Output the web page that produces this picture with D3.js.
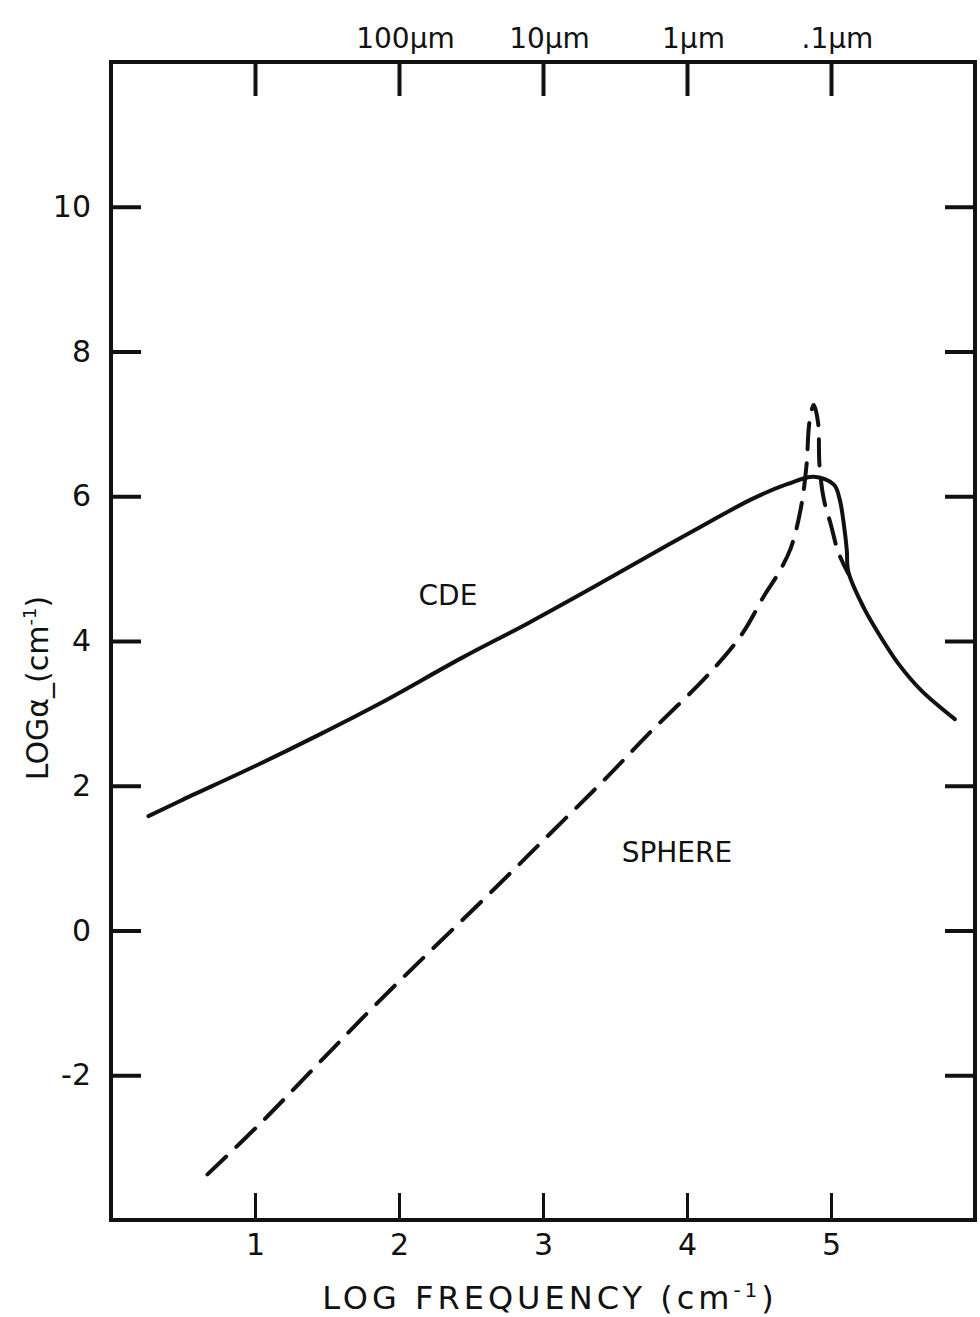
<!DOCTYPE html>
<html>
<head>
<meta charset="utf-8">
<script src="https://cdn.jsdelivr.net/npm/d3@7"></script>
<style>
  body { margin: 0; background: #fff; }
  svg text { font-family: "DejaVu Sans", sans-serif; fill: #111; }
</style>
</head>
<body>
<svg id="chart" width="980" height="1317"></svg>
<script>
// log frequency (cm^-1) vs log alpha
const cdeX = [0.26, 0.48, 1.02, 1.45, 1.87, 2.43, 2.90, 3.40, 3.87, 4.17, 4.45, 4.70, 4.88, 5.02, 5.06, 5.09, 5.11, 5.12, 5.23, 5.35, 5.47, 5.63, 5.86];
const cdeY = [1.58, 1.79, 2.29, 2.71, 3.14, 3.76, 4.25, 4.80, 5.33, 5.66, 5.96, 6.17, 6.27, 6.16, 5.96, 5.60, 5.25, 4.96, 4.45, 4.04, 3.68, 3.31, 2.92];

const sphereX = [0.67, 1.04, 1.43, 1.85, 2.67, 3.03, 3.45, 3.73, 4.15, 4.38, 4.54, 4.63, 4.72, 4.79, 4.83, 4.85, 4.88, 4.91, 4.92, 4.95, 5.00, 5.05, 5.12];
const sphereY = [-3.37, -2.66, -1.86, -1.00, 0.59, 1.30, 2.13, 2.71, 3.54, 4.09, 4.64, 4.92, 5.28, 5.83, 6.43, 7.02, 7.26, 7.02, 6.43, 5.96, 5.60, 5.23, 4.93];

const xTicks = [1, 2, 3, 4, 5];
const yTicks = [-2, 0, 2, 4, 6, 8, 10];
const topTicks = [1, 2, 3, 4, 5];
const topLabels = ["", "100\u03bcm", "10\u03bcm", "1\u03bcm", ".1\u03bcm"];

const margin = { top: 62, right: 5, bottom: 97, left: 111 };
const width = 980 - margin.left - margin.right;
const height = 1317 - margin.top - margin.bottom;

const svg = d3.select('#chart');
const g = svg.append('g').attr('transform', `translate(${margin.left},${margin.top})`);

const x = d3.scaleLinear().domain([0, 6]).range([0, width]);
const y = d3.scaleLinear().domain([-4, 12]).range([height, 0]);

// plain hyphen for negatives, like the original lettering
const fmt = d => String(d);

// axes, ticks pointing inward
const styleAxis = (sel) => {
  sel.select('.domain').remove();
  sel.selectAll('.tick line').attr('stroke', '#111').attr('stroke-width', 4);
  sel.selectAll('.tick text').attr('font-size', 30).attr('fill', '#111');
};

g.append('g')
  .attr('transform', `translate(0,${height})`)
  .call(d3.axisBottom(x).tickValues(xTicks).tickSizeInner(-27).tickSizeOuter(0).tickPadding(14).tickFormat(fmt))
  .call(styleAxis)
  .selectAll('.tick line').attr('stroke-width', 3);

g.append('g')
  .call(d3.axisLeft(y).tickValues(yTicks).tickSizeInner(-30).tickSizeOuter(0).tickPadding(20).tickFormat(fmt))
  .call(styleAxis);

g.append('g')
  .attr('transform', `translate(${width},0)`)
  .call(d3.axisRight(y).tickValues(yTicks).tickSizeInner(-30).tickSizeOuter(0).tickFormat(''))
  .call(styleAxis);

g.append('g')
  .call(d3.axisTop(x).tickValues(topTicks).tickSizeInner(-34).tickSizeOuter(0).tickPadding(14)
    .tickFormat((d, i) => topLabels[i]))
  .call(styleAxis)
  .selectAll('.tick text').attr('dx', 6).attr('font-size', 28);

// frame
g.append('rect')
  .attr('width', width).attr('height', height)
  .attr('fill', 'none').attr('stroke', '#111').attr('stroke-width', 4);

const line = d3.line()
  .x(d => x(d[0]))
  .y(d => y(d[1]))
  .curve(d3.curveCatmullRom.alpha(0.5));

g.append('path')
  .datum(cdeX.map((v, i) => [v, cdeY[i]]))
  .attr('d', line)
  .attr('fill', 'none')
  .attr('stroke', '#111')
  .attr('stroke-width', 4)
  .attr('stroke-linecap', 'round');

g.append('path')
  .datum(sphereX.map((v, i) => [v, sphereY[i]]))
  .attr('d', line)
  .attr('fill', 'none')
  .attr('stroke', '#111')
  .attr('stroke-width', 4)
  .attr('stroke-dasharray', '26,14')
  .attr('stroke-linecap', 'round');

// curve labels
g.append('text')
  .attr('x', x(2.34)).attr('y', y(4.5))
  .attr('text-anchor', 'middle')
  .attr('font-size', 28)
  .text('CDE');

g.append('text')
  .attr('x', x(3.93)).attr('y', y(0.95))
  .attr('text-anchor', 'middle')
  .attr('font-size', 28)
  .text('SPHERE');

// axis titles
const xTitle = svg.append('text')
  .attr('x', 550).attr('y', 1309)
  .attr('text-anchor', 'middle')
  .attr('font-size', 32)
  .attr('letter-spacing', 4);
xTitle.append('tspan').text('LOG FREQUENCY  (cm');
xTitle.append('tspan').attr('font-size', 20).attr('dy', -12).text('-1');
xTitle.append('tspan').attr('dy', 12).text(')');

const yTitle = svg.append('text')
  .attr('transform', 'translate(48,688) rotate(-90)')
  .attr('text-anchor', 'middle')
  .attr('font-size', 30);
yTitle.append('tspan').text('LOG\u03b1_(cm');
yTitle.append('tspan').attr('font-size', 18).attr('dy', -12).text('-1');
yTitle.append('tspan').attr('dy', 12).text(')');
</script>
</body>
</html>
